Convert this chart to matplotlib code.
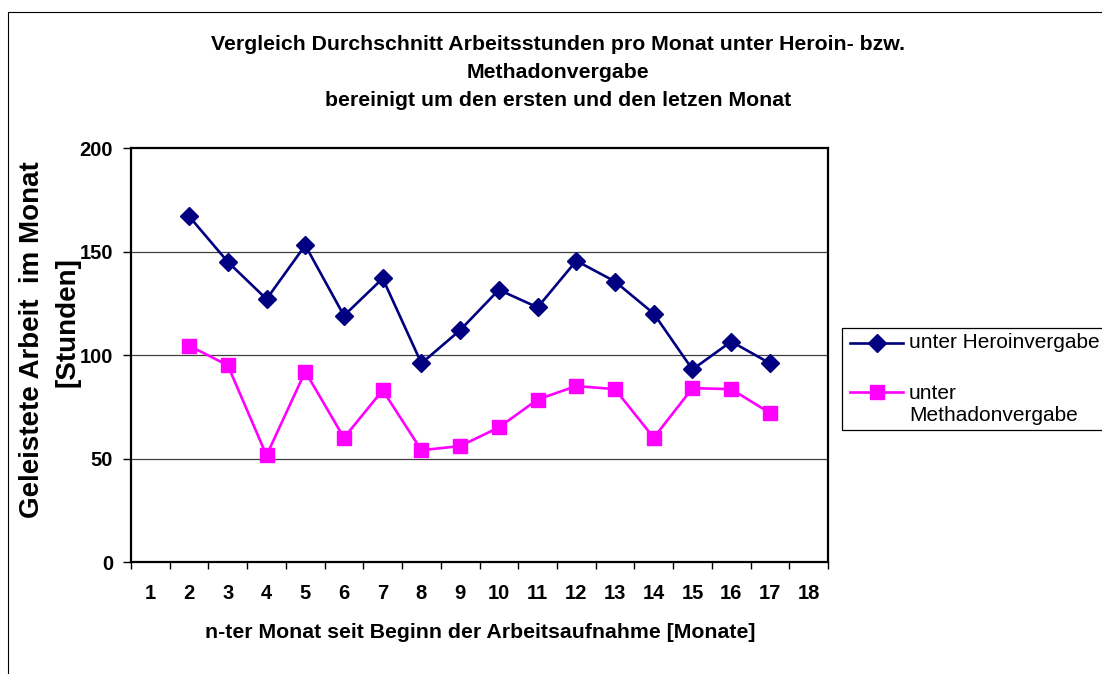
import matplotlib
matplotlib.use('Agg')
import matplotlib.pyplot as plt
from matplotlib.patches import Rectangle
from matplotlib.lines import Line2D
import numpy as np

plt.rcParams['font.family'] = ['Liberation Sans', 'DejaVu Sans']

# Data.
months = list(range(1, 19))
heroinMonths = list(range(2, 18))
heroin = [167, 145, 127, 153, 119, 137, 96, 112, 131.5, 123, 145.5, 135.5, 120, 93, 106.5, 96]
methadonMonths = list(range(2, 18))
methadon = [104.5, 95, 51.5, 92, 60, 83, 54, 56, 65, 78.5, 85, 83.5, 60, 84, 83.5, 72]
yTicks = [0, 50, 100, 150, 200]

titleLines = ['Vergleich Durchschnitt Arbeitsstunden pro Monat unter Heroin- bzw.',
              'Methadonvergabe',
              'bereinigt um den ersten und den letzen Monat']
xLabel = 'n-ter Monat seit Beginn der Arbeitsaufnahme [Monate]'
yLabelLines = ['Geleistete Arbeit  im Monat', '[Stunden]']
legendLabels = ['unter Heroinvergabe', 'unter\nMethadonvergabe']

heroinClr = '#000080'
methadonClr = '#FF00FF'

W, H = 1102, 674
fig = plt.figure(figsize=(W / 100, H / 100), dpi=100)

def fx(px):
  return px / W

def fy(py):
  return 1 - py / H

# Outer chart border (runs off the right and bottom edge).
fig.patches.append(Rectangle((fx(8), -0.1), 1.2, 1.1 - 12 / H, transform=fig.transFigure,
                             fill=False, edgecolor='black', lw=0.8))

# Plot area in pixel coords.
left, top, right, bottom = 131, 148, 828, 562
ax = fig.add_axes([fx(left), fy(bottom), (right - left) / W, (bottom - top) / H])

ax.plot(heroinMonths, heroin, color=heroinClr, lw=1.9, marker='D', ms=9.5, zorder=3)
ax.plot(methadonMonths, methadon, color=methadonClr, lw=1.9, marker='s', ms=10.5, zorder=3)

ax.set_xlim(0.5, 18.5)
ax.set_ylim(0, 200)

# Category axis: tick marks between categories, labels in the middle.
ax.set_xticks(np.arange(0.5, 19, 1))
ax.set_xticklabels([])
ax.set_xticks(months, minor=True)
ax.set_xticklabels([str(m) for m in months], minor=True, fontsize=14.5, fontweight='bold')
ax.tick_params(axis='x', which='major', direction='out', length=5, width=1)
ax.tick_params(axis='x', which='minor', length=0, pad=16)

ax.set_yticks(yTicks)
ax.set_yticklabels([str(v) for v in yTicks], fontsize=14.5, fontweight='bold')
ax.tick_params(axis='y', direction='out', length=6, width=1, pad=7)

for v in yTicks[1:-1]:
  ax.axhline(v, color='#404040', lw=0.9, zorder=1)

for s in ax.spines.values():
  s.set_linewidth(1.6)
  s.set_color('black')

# Title, three centred lines.
for text, py in zip(titleLines, [44, 72, 101]):
  fig.text(fx(558), fy(py), text, ha='center', va='center', fontsize=15.3, fontweight='bold')

fig.text(fx(480), fy(633), xLabel, ha='center', va='center', fontsize=15.3, fontweight='bold')

# Y axis title, two rotated lines.
fig.text(fx(32), fy(340), yLabelLines[0], ha='center', va='center', fontsize=20,
         fontweight='bold', rotation=90)
fig.text(fx(67), fy(322), yLabelLines[1], ha='center', va='center', fontsize=20,
         fontweight='bold', rotation=90)

# Legend drawn by hand so its box can run off the right edge like the original.
fig.patches.append(Rectangle((fx(842), fy(430)), 0.3, (430 - 328) / H, transform=fig.transFigure,
                             fill=True, facecolor='white', edgecolor='black', lw=0.9))
for clr, mk, ms, py in [(heroinClr, 'D', 9, 343), (methadonClr, 's', 10, 392)]:
  fig.lines.append(Line2D([fx(850), fx(903)], [fy(py), fy(py)], transform=fig.transFigure,
                          color=clr, lw=1.9))
  fig.lines.append(Line2D([fx(876.5)], [fy(py)], transform=fig.transFigure,
                          color=clr, marker=mk, ms=ms))
fig.text(fx(909), fy(343), legendLabels[0], ha='left', va='center', fontsize=15)
fig.text(fx(909), fy(404.5), legendLabels[1], ha='left', va='center', fontsize=15,
         linespacing=1.2)

fig.savefig('out.png', dpi=100)
